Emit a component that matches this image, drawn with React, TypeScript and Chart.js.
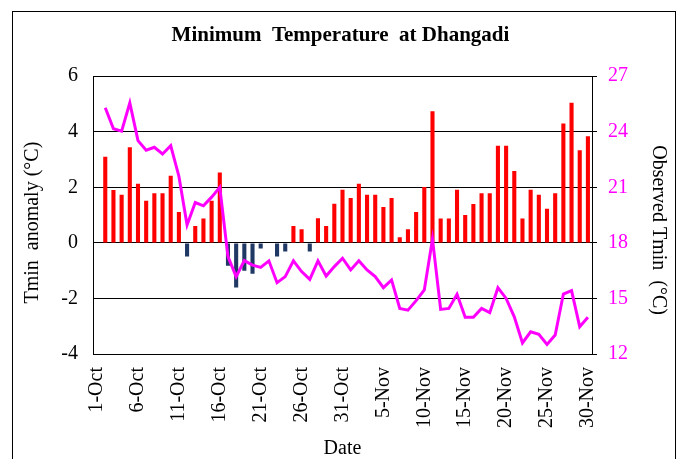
import React, { useEffect, useRef } from "react";
import { Chart, registerables } from "chart.js";

Chart.register(...registerables);

const FONT = "'Liberation Serif', 'Times New Roman', serif";

const octoberDays: string[] = Array.from({ length: 31 }, (_, i) => `${i + 1}-Oct`);
const novemberDays: string[] = Array.from({ length: 30 }, (_, i) => `${i + 1}-Nov`);
const categories: string[] = [...octoberDays, ...novemberDays];

// Tmin anomaly (°C), left axis
const anomaly: (number | null)[] = [
  null,
  3.1, 1.9, 1.73, 3.44, 2.13, 1.52, 1.79, 1.79, 2.42, 1.11,
  -0.49, 0.61, 0.88, 1.52, 2.53, -0.82, -1.61, -1.0, -1.11, -0.2,
  0, -0.49, -0.31, 0.61, 0.49, -0.31, 0.89, 0.61, 1.41, 1.91,
  1.62, 2.13, 1.73, 1.73, 1.29, 1.62, 0.2, 0.49, 1.11, 2.01,
  4.74, 0.88, 0.88, 1.91, 1.0, 1.4, 1.79, 1.79, 3.5, 3.5,
  2.59, 0.88, 1.91, 1.73, 1.23, 1.79, 4.3, 5.04, 3.33, 3.84,
];

// Observed Tmin (°C), right axis
const observed: (number | null)[] = [
  null,
  25.3, 24.16, 24.03, 25.56, 23.52, 23.0, 23.16, 22.8, 23.25, 21.6,
  18.97, 20.18, 20.0, 20.47, 21.0, 17.26, 16.18, 17.04, 16.8, 16.68,
  17.03, 15.85, 16.18, 17.03, 16.45, 16.03, 17.03, 16.21, 16.72, 17.17,
  16.54, 17.03, 16.54, 16.18, 15.58, 16.0, 14.46, 14.37, 14.88, 15.46,
  18.2, 14.41, 14.46, 15.22, 13.98, 13.98, 14.46, 14.23, 15.58, 15.0,
  14.01, 12.6, 13.2, 13.06, 12.52, 13.02, 15.24, 15.42, 13.47, 13.98,
];

const leftAxisRange = [-4, 6];
const rightAxisRange = [12, 27];
const labelEvery = 5;

export default function App() {
  const canvasRef = useRef<HTMLCanvasElement | null>(null);

  useEffect(() => {
    if (!canvasRef.current) return;
    const chart = new Chart(canvasRef.current, {
      type: "bar",
      data: {
        labels: categories,
        datasets: [
          {
            type: "line",
            label: "Observed Tmin",
            data: observed,
            yAxisID: "y1",
            borderColor: "#FF00FF",
            backgroundColor: "#FF00FF",
            borderWidth: 3,
            pointRadius: 0,
            tension: 0,
            order: 0,
          } as any,
          {
            type: "bar",
            label: "Tmin anomaly",
            data: anomaly,
            yAxisID: "y",
            backgroundColor: (ctx: any) => {
              const v = ctx.raw as number;
              return v < 0 ? "#1F3864" : "#FF0000";
            },
            barPercentage: 0.5,
            categoryPercentage: 1,
            order: 1,
          } as any,
        ],
      },
      options: {
        responsive: false,
        animation: false,
        layout: { padding: 0 },
        plugins: {
          legend: { display: false },
          tooltip: { enabled: false },
          title: {
            display: true,
            text: "Minimum  Temperature  at Dhangadi",
            color: "#000",
            font: { family: FONT, size: 21, weight: "bold", lineHeight: 1.2 },
            padding: { top: 23, bottom: 28 },
          },
        },
        scales: {
          x: {
            type: "category",
            offset: true,
            grid: { display: false, drawTicks: false },
            border: { display: true, color: "#000", width: 1 },
            ticks: {
              autoSkip: false,
              maxRotation: 90,
              minRotation: 90,
              padding: 13,
              color: "#000",
              font: { family: FONT, size: 20 },
              callback: function (this: any, value: any, index: number) {
                return index % labelEvery === 0 ? this.getLabelForValue(value) : "";
              },
            },
            title: {
              display: true,
              text: "Date",
              color: "#000",
              font: { family: FONT, size: 20, lineHeight: 1 },
              padding: 0,
            },
            afterFit: (s: any) => {
              s.height = 105;
            },
          },
          y: {
            position: "left",
            min: leftAxisRange[0],
            max: leftAxisRange[1],
            ticks: { stepSize: 2, padding: 15, color: "#000", font: { family: FONT, size: 20 } },
            grid: { color: "#000", lineWidth: 1, drawTicks: false },
            border: { color: "#000", width: 1 },
            title: {
              display: true,
              text: "Tmin  anomaly (°C)   ",
              color: "#000",
              font: { family: FONT, size: 20, lineHeight: 1.2 },
              padding: { top: 21, bottom: 0 },
            },
            afterFit: (s: any) => {
              s.width = 93;
            },
          },
          y1: {
            position: "right",
            min: rightAxisRange[0],
            max: rightAxisRange[1],
            ticks: { stepSize: 3, padding: 11, color: "#FF00FF", font: { family: FONT, size: 20 } },
            grid: { drawOnChartArea: false, color: "#000", tickLength: 5 },
            border: { color: "#000", width: 1 },
            title: {
              display: true,
              text: "      Observed Tmin  (°C)",
              color: "#000",
              font: { family: FONT, size: 20, lineHeight: 1.2 },
              padding: { top: 11, bottom: 0 },
            },
            afterFit: (s: any) => {
              s.width = 89;
            },
          },
        },
      } as any,
    });
    return () => chart.destroy();
  }, []);

  return (
    <div
      style={{
        position: "absolute",
        left: 0,
        top: 0,
        width: 681,
        height: 459,
        overflow: "hidden",
        background: "#fff",
      }}
    >
      <canvas ref={canvasRef} width={681} height={459} style={{ display: "block" }} />
      <div
        style={{
          position: "absolute",
          left: 12,
          top: 11,
          width: 664,
          height: 520,
          border: "1px solid #000",
          boxSizing: "border-box",
          pointerEvents: "none",
        }}
      />
    </div>
  );
}
